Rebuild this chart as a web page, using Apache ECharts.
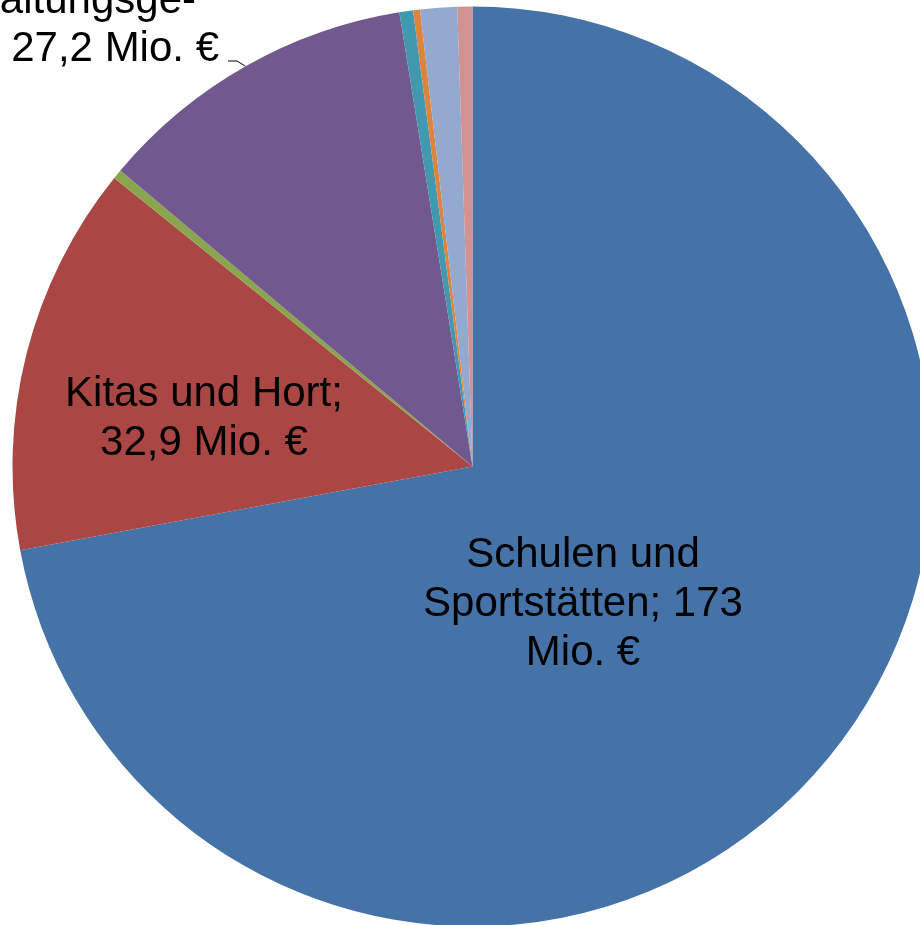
<!DOCTYPE html>
<html>
<head>
<meta charset="utf-8">
<script src="https://cdn.jsdelivr.net/npm/echarts@6/dist/echarts.min.js"></script>
<style>
  html, body { margin: 0; padding: 0; background: #fff; }
  #chart { width: 920px; height: 925px; }
</style>
</head>
<body>
<div id="chart"></div>
<script>
// Investitionen nach Bereichen (Mio. €), clockwise from 12 o'clock
const names = [
  'Schulen und Sportstätten',
  'Kitas und Hort',
  'Sonstiges A',
  'Verwaltungsgebäude',
  'Sonstiges B',
  'Sonstiges C',
  'Sonstiges D',
  'Sonstiges E'
];
const values = [173, 32.9, 0.8, 27.2, 1.15, 0.58, 3.1, 1.27];
const labelTexts = [
  'Schulen und\nSportstätten; 173\nMio. €',
  'Kitas und Hort;\n32,9 Mio. €',
  '',
  '{a|Verwaltungsge-}\n{b|27,2 Mio. €}',
  '', '', '', ''
];

const colors = ['#4572A7', '#AA4643', '#89A54E', '#71588F', '#4198AF', '#DB843D', '#93A9CF', '#D19392'];

// where each visible label sits (text block anchor)
const labelPos = {
  0: { x: 583, y: 604, align: 'center' },
  1: { x: 204, y: 419, align: 'center' },
  3: { x: 219, y: 25, align: 'right' }
};

const chart = echarts.init(document.getElementById('chart'));

const data = values.map((v, i) => ({
  name: names[i],
  value: v,
  itemStyle: { color: colors[i] },
  label: labelTexts[i]
    ? { show: true, position: i === 3 ? 'outside' : 'inside' }
    : { show: false },
  labelLine: { show: i === 3 }
}));

const font = 'Liberation Sans, Arial, sans-serif';

chart.setOption({
  animation: false,
  series: [{
    type: 'pie',
    center: [472.5, 466.5],
    radius: 460,
    startAngle: 90,
    clockwise: true,
    avoidLabelOverlap: false,
    itemStyle: { borderWidth: 0 },
    label: {
      formatter: p => labelTexts[p.dataIndex],
      color: '#000',
      fontFamily: font,
      fontSize: 42,
      lineHeight: 49,
      rich: {
        a: { color: '#000', fontFamily: font, fontSize: 42, lineHeight: 48, padding: [0, 23, 0, 0] },
        b: { color: '#000', fontFamily: font, fontSize: 42, lineHeight: 48 }
      }
    },
    labelLine: {
      length: 8,
      length2: 8,
      lineStyle: { color: '#000', width: 1 }
    },
    labelLayout: params => {
      const p = labelPos[params.dataIndex];
      if (!p) return {};
      const out = { x: p.x, y: p.y, align: p.align, verticalAlign: 'middle' };
      if (params.labelLinePoints) {
        // keep the anchor on the slice edge, run a short elbow to the end of line 2
        const anchor = params.labelLinePoints[0];
        const ly = p.y + 36;
        out.labelLinePoints = [anchor, [p.x + 18, ly], [p.x + 9, ly]];
      }
      return out;
    },
    emphasis: { disabled: true },
    data: data
  }]
});
</script>
</body>
</html>
